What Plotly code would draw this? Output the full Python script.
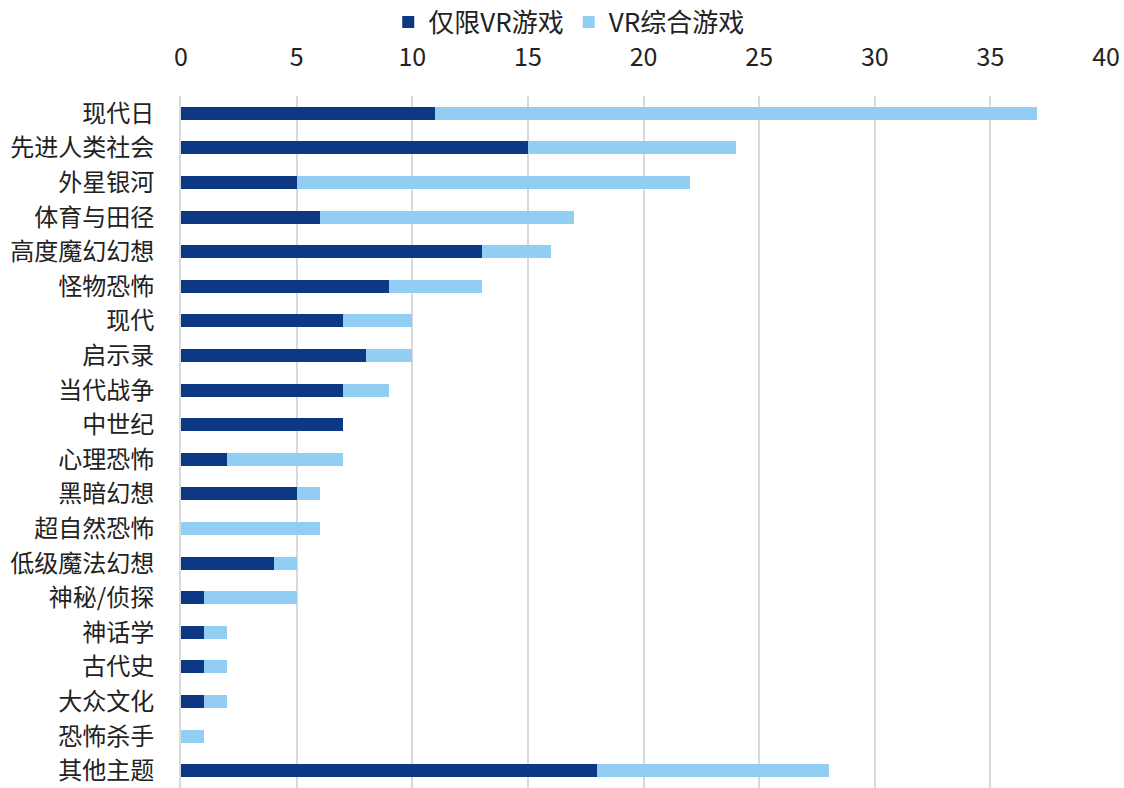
import plotly.graph_objects as go

categories = ["现代日", "先进人类社会", "外星银河", "体育与田径", "高度魔幻幻想", "怪物恐怖",
              "现代", "启示录", "当代战争", "中世纪", "心理恐怖", "黑暗幻想", "超自然恐怖",
              "低级魔法幻想", "神秘/侦探", "神话学", "古代史", "大众文化", "恐怖杀手", "其他主题"]
vr_only = [11, 15, 5, 6, 13, 9, 7, 8, 7, 7, 2, 5, 0, 4, 1, 1, 1, 1, 0, 18]
vr_mixed = [26, 9, 17, 11, 3, 4, 3, 2, 2, 0, 5, 1, 6, 1, 4, 1, 1, 1, 1, 10]
x_ticks = [0, 5, 10, 15, 20, 25, 30, 35, 40]

FONT = "Noto Sans CJK SC"

fig = go.Figure()
fig.add_trace(go.Bar(y=categories, x=vr_only, name="仅限VR游戏", orientation="h",
                     marker=dict(color="#0E3883", line=dict(width=0))))
fig.add_trace(go.Bar(y=categories, x=vr_mixed, name="VR综合游戏", orientation="h",
                     marker=dict(color="#92CEF3", line=dict(width=0))))

fig.update_layout(
    width=1124, height=788,
    barmode="stack", bargap=0.62,
    paper_bgcolor="white", plot_bgcolor="white",
    margin=dict(l=181, r=18, t=96, b=0, autoexpand=False),
    font=dict(family=FONT, size=24, color="#222222"),
    legend=dict(orientation="h", xref="container", x=0.506, xanchor="center",
                yref="container", y=1 - 22 / 788, yanchor="middle",
                font=dict(size=26, color="#222222"), itemwidth=30,
                traceorder="normal", bgcolor="rgba(0,0,0,0)"),
    xaxis=dict(side="top", range=[0, 40], tickvals=x_ticks, showgrid=True,
               gridcolor="#D9D9D9", gridwidth=2, zeroline=False, automargin=False,
               showline=False, ticks="", tickfont=dict(size=25, color="#222222"),
               ticklabelstandoff=24, fixedrange=True),
    yaxis=dict(autorange="reversed", showgrid=False, ticks="", showline=True,
               automargin=False,
               linecolor="#D9D9D9", linewidth=2, tickfont=dict(size=24, color="#222222"),
               ticklabelstandoff=20, fixedrange=True),
)

fig.write_html("out.html")
